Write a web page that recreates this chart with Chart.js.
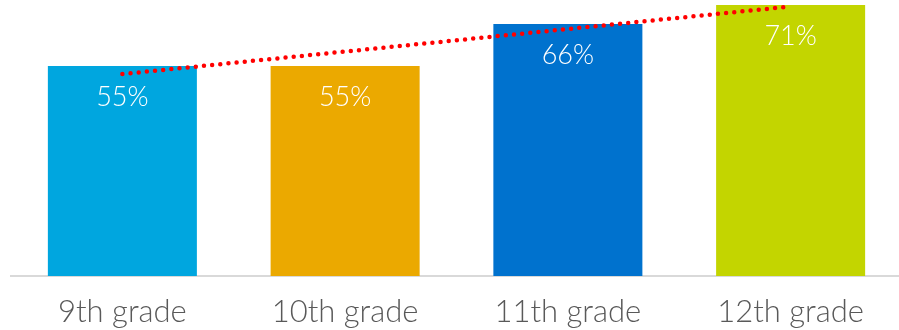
<!DOCTYPE html>
<html>
<head>
<meta charset="utf-8">
<script src="https://cdn.jsdelivr.net/npm/chart.js@4"></script>
<style>
    html, body { margin: 0; padding: 0; background: #fff; overflow: hidden; }
    #wrap { width: 902px; height: 330px; position: relative; }
</style>
</head>
<body>
<div id="wrap"><canvas id="chart-grades"></canvas></div>
<script>
/**
 * Share by grade, with a dotted linear trend line over the bars.
 */

const GRADES = ['9th grade', '10th grade', '11th grade', '12th grade'];
const SHARE = [55, 55, 66, 71];
const TREND = [52.9, 58.8, 64.7, 70.6];
const BAR_COLORS = ['#00a6df', '#eba900', '#0072ce', '#c3d500'];

const FONT = 'Lato, "Open Sans", sans-serif';

// White value labels just inside the top of each bar
const barLabels = {
    id: 'barLabels',
    afterDatasetsDraw(chart) {
        const ctx = chart.ctx;
        const meta = chart.getDatasetMeta(1);
        ctx.save();
        ctx.fillStyle = '#ffffff';
        ctx.font = `300 27px ${FONT}`;
        ctx.textAlign = 'center';
        ctx.textBaseline = 'middle';
        meta.data.forEach((bar, i) => {
            ctx.fillText(`${SHARE[i]}%`, bar.x, bar.y + 31);
        });
        ctx.restore();
    },
};

new Chart(document.getElementById('chart-grades'), {
    data: {
        labels: GRADES,
        datasets: [
            {
                type: 'line',
                label: 'Trend',
                data: TREND,
                borderColor: '#ff0000',
                borderWidth: 4.5,
                borderDash: [0, 8.2],
                borderCapStyle: 'round',
                pointRadius: 0,
                fill: false,
                order: 0,
            },
            {
                type: 'bar',
                label: 'Share',
                data: SHARE,
                backgroundColor: BAR_COLORS,
                categoryPercentage: 1,
                barPercentage: 0.669,
                order: 1,
            },
        ],
    },
    options: {
        responsive: true,
        maintainAspectRatio: false,
        animation: false,
        layout: { padding: { left: 11, right: 0, top: 0, bottom: 0 } },
        plugins: {
            legend: { display: false },
            tooltip: { enabled: false },
        },
        scales: {
            x: {
                afterFit: scale => { scale.height = 54; },
                grid: { display: false, drawTicks: false },
                border: { display: true, color: '#d9d9d9', width: 2 },
                ticks: {
                    color: '#595959',
                    font: { family: FONT, size: 31, weight: 300 },
                    padding: 17,
                    maxRotation: 0,
                },
            },
            y: {
                display: false,
                min: 0,
                max: 72.3,
            },
        },
    },
    plugins: [barLabels],
});
</script>
</body>
</html>
